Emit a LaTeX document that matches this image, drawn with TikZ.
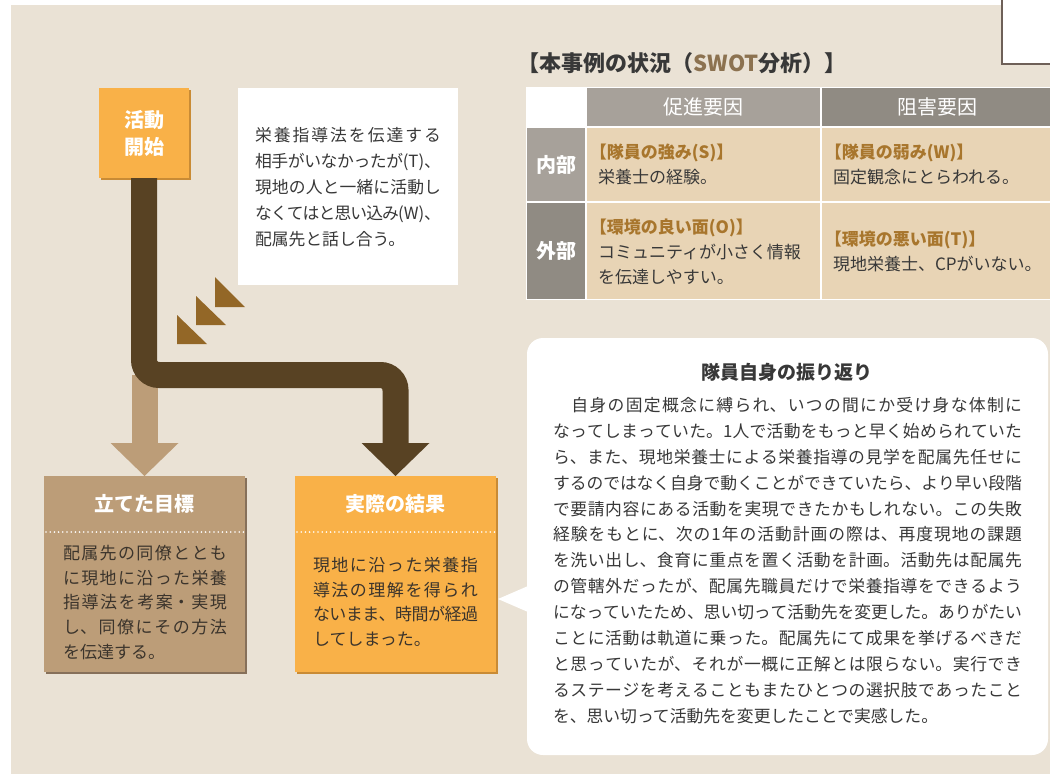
\documentclass[tikz,border=0pt]{standalone}
\usepackage{fontspec}
\setmainfont{Noto Sans CJK JP}
\usetikzlibrary{calc}
\XeTeXlinebreaklocale "ja"
\XeTeXlinebreakskip=0pt plus 4pt minus 1pt
\definecolor{bgbeige}{HTML}{EAE2D5}
\definecolor{orangec}{HTML}{F9B148}
\definecolor{orangesh}{HTML}{C98B35}
\definecolor{darkbr}{HTML}{584223}
\definecolor{lightbr}{HTML}{BC9D78}
\definecolor{lightsh}{HTML}{86705A}
\definecolor{goldtri}{HTML}{936727}
\definecolor{txt}{HTML}{383838}
\definecolor{boxtxt}{HTML}{3B342C}
\definecolor{hdrA}{HTML}{A7A19A}
\definecolor{hdrB}{HTML}{908B83}
\definecolor{cellbg}{HTML}{E8D4B5}
\definecolor{lblc}{HTML}{A8762D}
\definecolor{swotc}{HTML}{8C7250}
\definecolor{cornerln}{HTML}{6E6058}
\newcommand\jline[2]{\vbox{\hsize=#1\parindent=0pt\parskip=0pt\parfillskip=0pt\leftskip=0pt\rightskip=0pt\tolerance=10000\hbadness=10000\hfuzz=30pt\XeTeXlinebreakpenalty=10000\noindent #2\par}}
\newcommand\nline[1]{\hbox{#1}}
\newcommand\blk[2]{\vtop{\baselineskip=#1\lineskiplimit=-100pt\lineskip=0pt #2}}
\newcommand\lbl[1]{{\kern-0.48em\bfseries\color{lblc}#1}}
\tikzset{
  textblk/.style={anchor=base west, inner sep=0pt, outer sep=0pt},
  plainbox/.style={rectangle, inner sep=0pt, outer sep=0pt},
  startbox/.style={plainbox, fill=orangec, minimum width=90pt, minimum height=90pt,
    text=white, font=\fontsize{20}{27}\selectfont\bfseries, align=center,
    preaction={fill=orangesh, transform canvas={shift={(1.5pt,-1.5pt)}}}},
  notebox/.style={plainbox, fill=white, minimum width=220pt, minimum height=197pt},
  goalbox/.style={plainbox, fill=lightbr, minimum width=201pt, minimum height=196pt,
    preaction={fill=lightsh, transform canvas={shift={(1.5pt,-1.5pt)}}}},
  resultbox/.style={plainbox, fill=orangec, minimum width=201pt, minimum height=196pt,
    preaction={fill=orangesh, transform canvas={shift={(1.5pt,-1.5pt)}}}},
  reflbox/.style={plainbox, fill=white, rounded corners=16pt, minimum width=521pt, minimum height=417pt},
  boxtitle/.style={inner sep=0pt, anchor=base, text=white, font=\fontsize{20}{20}\selectfont\bfseries},
  dotline/.style={white, line width=1.8pt, line cap=round, dash pattern=on 0pt off 4.2pt},
  darkflow/.style={darkbr, line width=26pt, rounded corners=15pt},
  lightflow/.style={lightbr, line width=26pt},
  hdrcell/.style={plainbox, text=white, font=\fontsize{20}{20}\selectfont},
  rowcell/.style={plainbox, text=white, font=\fontsize{20}{20}\selectfont\bfseries},
  cellbox/.style={plainbox, fill=cellbg},
}
\begin{document}
\begin{tikzpicture}[x=1pt, y=-1pt, font=\fontsize{17}{24}\selectfont, every node/.style={text=txt}]
\useasboundingbox (0,0) rectangle (1050,774);
\fill[white] (0,0) rectangle (1050,774);
\fill[bgbeige] (11,5) rectangle (1050,774);
% top right corner box
\filldraw[fill=white, draw=cornerln, line width=1.3pt] (1002,-3) rectangle (1053,64);

% start box and note
\node[startbox] (start) at (144,133) {活動\\開始};
\node[notebox] (note) at (348,186.5) {};
\node[textblk, font=\fontsize{16.8}{26}\selectfont] (notetext) at ($(note.north west)+(17,53.5)$) {\blk{26pt}{%
\jline{186pt}{栄養指導法を伝達する}
\jline{186pt}{相手がいなかったが(T)、}
\jline{186pt}{現地の人と一緒に活動し}
\jline{186pt}{なくてはと思い込み(W)、}
\nline{配属先と話し合う。}}};

% small triangles
\fill[goldtri] (215,277) -- (245,307) -- (215,307) -- cycle;
\fill[goldtri] (196,296) -- (226,325) -- (196,325) -- cycle;
\fill[goldtri] (177,315) -- (207,344) -- (177,344) -- cycle;

% bottom boxes
\node[goalbox] (goal) at (144.5,574) {};
\node[resultbox] (result) at (395.5,574) {};

% flows
\coordinate (bend) at (0,375);
\draw[lightflow] (goal.north |- bend) -- ($(goal.north)+(0,-33)$);
\fill[lightbr] (goal.north) -- ++(-34,-33) -- ++(68,0) -- cycle;
\draw[darkflow] (start.south) -- (start.south |- bend) -- (result.north |- bend) -- ($(result.north)+(0,-33)$);
\fill[darkbr] (result.north) -- ++(-34,-33) -- ++(68,0) -- cycle;

% goal box content
\node[boxtitle] (goalttl) at ($(goal.north)+(0,35.6)$) {立てた目標};
\draw[dotline] ($(goal.north west)+(2,56)$) -- ($(goal.north east)+(-1,56)$);
\node[textblk, text=boxtxt] (goalbody) at ($(goal.north west)+(19,83.5)$) {\blk{24.7pt}{%
\jline{164pt}{配属先の同僚ととも}
\jline{164pt}{に現地に沿った栄養}
\jline{164pt}{指導法を考案・実現}
\jline{164pt}{し、同僚にその方法}
\nline{を伝達する。}}};

% result box content
\node[boxtitle] (resttl) at ($(result.north)+(0,35.6)$) {実際の結果};
\draw[dotline] ($(result.north west)+(2,56)$) -- ($(result.north east)+(-1,56)$);
\node[textblk, text=boxtxt] (resbody) at ($(result.north west)+(18,95.5)$) {\blk{24.5pt}{%
\jline{165pt}{現地に沿った栄養指}
\jline{165pt}{導法の理解を得られ}
\jline{165pt}{ないまま、時間が経過}
\nline{してしまった。}}};

% reflection box
\node[reflbox] (refl) at (787.5,546.5) {};
\fill[white] ($(refl.west)+(1,39.5)$) -- ($(refl.west)+(-29,52.5)$) -- ($(refl.west)+(1,65.5)$) -- cycle;
\node[inner sep=0pt, anchor=base, font=\fontsize{19}{19}\selectfont\bfseries] (reflttl) at ($(refl.north)+(-0.5,41.2)$) {隊員自身の振り返り};
\node[textblk, font=\fontsize{16.8}{26}\selectfont] (reflbody) at ($(refl.north west)+(26,73.4)$) {\blk{25.9pt}{%
\jline{469pt}{\hskip1.1em 自身の固定概念に縛られ、いつの間にか受け身な体制に}
\jline{469pt}{なってしまっていた。1人で活動をもっと早く始められていた}
\jline{469pt}{ら、また、現地栄養士による栄養指導の見学を配属先任せに}
\jline{469pt}{するのではなく自身で動くことができていたら、より早い段階}
\jline{469pt}{で要請内容にある活動を実現できたかもしれない。この失敗}
\jline{469pt}{経験をもとに、次の1年の活動計画の際は、再度現地の課題}
\jline{469pt}{を洗い出し、食育に重点を置く活動を計画。活動先は配属先}
\jline{469pt}{の管轄外だったが、配属先職員だけで栄養指導をできるよう}
\jline{469pt}{になっていたため、思い切って活動先を変更した。ありがたい}
\jline{469pt}{ことに活動は軌道に乗った。配属先にて成果を挙げるべきだ}
\jline{469pt}{と思っていたが、それが一概に正解とは限らない。実行でき}
\jline{469pt}{るステージを考えることもまたひとつの選択肢であったこと}
\nline{を、思い切って活動先を変更したことで実感した。}}};

% SWOT title and table
\node[textblk, font=\fontsize{22}{22}\selectfont\bfseries] (swotttl) at (528,71) {\kern-0.48em【本事例の状況（\textcolor{swotc}{SWOT}分析）】};
\fill[white] (526,87) rectangle (1053,300);
\node[hdrcell, fill=hdrA, minimum width=233pt, minimum height=38pt] (hpro) at (703.5,107) {促進要因};
\node[hdrcell, fill=hdrB, minimum width=231pt, minimum height=38pt] (hcon) at (937.5,107) {阻害要因};
\node[rowcell, fill=hdrA, minimum width=58pt, minimum height=73pt] (rin) at (556,164.5) {内部};
\node[rowcell, fill=hdrB, minimum width=58pt, minimum height=96pt] (rout) at (556,251) {外部};
\node[cellbox, minimum width=233pt, minimum height=73pt] (cS) at (703.5,164.5) {};
\node[cellbox, minimum width=231pt, minimum height=73pt] (cW) at (937.5,164.5) {};
\node[cellbox, minimum width=233pt, minimum height=96pt] (cO) at (703.5,251) {};
\node[cellbox, minimum width=231pt, minimum height=96pt] (cT) at (937.5,251) {};
\node[textblk] (tS) at ($(cS.north west)+(11,30.5)$) {\blk{25pt}{%
\nline{\lbl{【隊員の強み(S)】}}
\nline{栄養士の経験。}}};
\node[textblk] (tW) at ($(cW.north west)+(11,30.5)$) {\blk{25pt}{%
\nline{\lbl{【隊員の弱み(W)】}}
\nline{固定観念にとらわれる。}}};
\node[textblk] (tO) at ($(cO.north west)+(11,30.5)$) {\blk{25pt}{%
\nline{\lbl{【環境の良い面(O)】}}
\nline{コミュニティが小さく情報}
\nline{を伝達しやすい。}}};
\node[textblk] (tT) at ($(cT.north west)+(11,42.5)$) {\blk{25pt}{%
\nline{\lbl{【環境の悪い面(T)】}}
\nline{現地栄養士、CPがいない。}}};
\end{tikzpicture}
\end{document}
